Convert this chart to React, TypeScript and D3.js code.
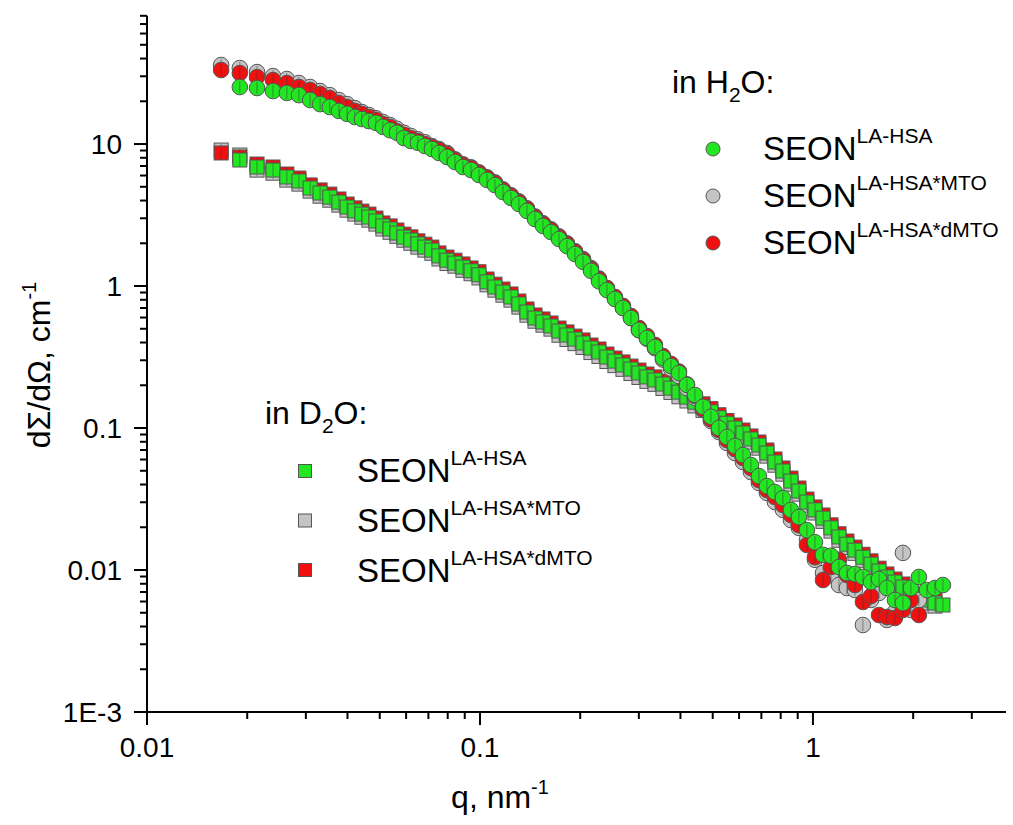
import React from "react";
import * as d3 from "d3";

// q grid (nm^-1) shared by all series
const Q: number[] = [
  0.0167, 0.019, 0.0214, 0.0239, 0.0263, 0.0286, 0.0309, 0.0331, 0.0354, 0.0377,
  0.0399, 0.0421, 0.0442, 0.0464, 0.0487, 0.0511, 0.0537, 0.0563, 0.0591, 0.062,
  0.0651, 0.0683, 0.0717, 0.0753, 0.0796, 0.0841, 0.0889, 0.094, 0.0993, 0.105,
  0.1109, 0.1172, 0.1239, 0.1309, 0.1384, 0.1463, 0.1546, 0.1634, 0.1727, 0.1825,
  0.1929, 0.2039, 0.2154, 0.2277, 0.2406, 0.2543, 0.2688, 0.2841, 0.3002, 0.3173,
  0.3353, 0.3544, 0.3746, 0.3959, 0.4184, 0.4422, 0.4674, 0.4939, 0.522, 0.5517,
  0.5831, 0.6162, 0.6512, 0.6883, 0.7274, 0.7688, 0.8125, 0.8587, 0.9075, 0.9593,
  1.014, 1.072, 1.133, 1.197, 1.265, 1.337, 1.413, 1.494, 1.579, 1.668,
  1.763, 1.863, 1.969, 2.081, 2.199, 2.325, 2.457,
];

// H2O (circles)
const H2O_LA: (number | null)[] = [
  null, 25.2, 24.8, 23.6, 22.9, 22.1, 20.4, 19.1, 18.2, 17.1,
  16.3, 15.5, 15.0, 14.5, 14.1, 13.2, 12.5, 12.0, 11.0, 10.5,
  10.2, 9.68, 9.22, 8.65, 8.1, 7.47, 6.89, 6.56, 6.05, 5.58,
  5.14, 4.59, 4.17, 3.78, 3.38, 2.96, 2.65, 2.4, 2.14, 1.91,
  1.68, 1.48, 1.28, 1.08, 0.937, 0.81, 0.7, 0.595, 0.49, 0.43,
  0.372, 0.311, 0.273, 0.244, 0.201, 0.171, 0.141, 0.12, 0.1, 0.0864,
  0.0747, 0.0645, 0.0549, 0.0459, 0.039, 0.0354, 0.0321, 0.0265, 0.0236, 0.0191,
  0.0157, 0.0128, 0.0126, 0.0105, 0.00953, 0.00937, 0.00893, 0.00823, 0.00864, 0.00747,
  0.00615, 0.00586, 0.00747, 0.00893, 0.00723, 0.00747, 0.00784,
];
const H2O_MTO: (number | null)[] = [
  36.0, 34.3, 32.1, 30.1, 28.7, 26.9, 25.2, 23.6, 22.1, 20.4,
  19.1, 17.9, 16.8, 16.0, 15.2, 14.3, 13.6, 12.8, 12.0, 11.4,
  10.8, 10.3, 9.68, 9.22, 8.65, 7.81, 7.2, 6.86, 6.32, 5.83,
  5.37, 4.8, 4.36, 3.95, 3.53, 3.09, 2.77, 2.51, 2.24, 2.0,
  1.76, 1.55, 1.34, 1.13, 0.95, 0.815, 0.7, 0.595, 0.488, 0.425,
  0.365, 0.303, 0.262, 0.232, 0.191, 0.163, 0.134, 0.112, 0.0937, 0.0784,
  0.0667, 0.0576, 0.049, 0.041, 0.0349, 0.0301, 0.0265, 0.0225, 0.0198, 0.0163,
  0.0118, 0.00953, 0.00922, 0.00784, 0.00747, 0.00723, 0.0041, 0.00615, 0.00689, 0.00445,
  0.00506, 0.0132, 0.00523, 0.00615, null, null, null,
];
const H2O_dMTO: (number | null)[] = [
  33.2, 31.6, 29.6, 28.2, 26.9, 25.2, 24.0, 22.5, 21.1, 19.4,
  18.2, 17.1, 16.3, 15.5, 14.8, 13.8, 13.2, 12.3, 11.6, 11.0,
  10.5, 10.0, 9.53, 9.07, 8.5, 7.73, 7.13, 6.79, 6.26, 5.78,
  5.32, 4.75, 4.32, 3.91, 3.5, 3.06, 2.74, 2.48, 2.21, 1.98,
  1.74, 1.53, 1.32, 1.12, 0.97, 0.838, 0.725, 0.616, 0.507, 0.445,
  0.385, 0.322, 0.283, 0.25, 0.203, 0.168, 0.136, 0.115, 0.0968, 0.0823,
  0.0711, 0.0615, 0.0523, 0.043, 0.0366, 0.0327, 0.0287, 0.0244, 0.0207, 0.015,
  0.0123, 0.0085, 0.0105, 0.0118, 0.00922, 0.00784, 0.00595, 0.00656, 0.00482, 0.00467,
  0.00459, 0.00523, 0.00615, 0.00482, null, null, null,
];

// D2O (squares)
const D2O_LA: (number | null)[] = [
  null, 7.72, 6.89, 6.56, 5.86, 5.49, 4.9, 4.52, 4.23, 3.9,
  3.6, 3.38, 3.21, 3.06, 2.87, 2.65, 2.52, 2.36, 2.21, 2.11,
  1.98, 1.88, 1.79, 1.63, 1.52, 1.45, 1.36, 1.28, 1.2, 1.07,
  0.984, 0.907, 0.837, 0.747, 0.656, 0.595, 0.558, 0.523, 0.482, 0.452,
  0.423, 0.397, 0.366, 0.343, 0.316, 0.296, 0.278, 0.26, 0.244, 0.229,
  0.218, 0.204, 0.191, 0.179, 0.165, 0.152, 0.141, 0.13, 0.118, 0.108,
  0.1, 0.0922, 0.0837, 0.0759, 0.0667, 0.0576, 0.0498, 0.0423, 0.036, 0.0301,
  0.0265, 0.0232, 0.0198, 0.0171, 0.0152, 0.0138, 0.0123, 0.011, 0.00984, 0.00893,
  0.00823, 0.00759, 0.00711, 0.00645, 0.00615, 0.00586, 0.00567,
];
const D2O_MTO: (number | null)[] = [
  9.07, 8.37, 6.55, 6.23, 5.57, 5.22, 4.66, 4.29, 4.02, 3.71,
  3.42, 3.21, 3.05, 2.91, 2.73, 2.52, 2.39, 2.24, 2.1, 2.0,
  1.88, 1.79, 1.7, 1.55, 1.44, 1.38, 1.29, 1.22, 1.14, 1.02,
  0.935, 0.862, 0.795, 0.71, 0.623, 0.565, 0.53, 0.497, 0.45, 0.42,
  0.393, 0.369, 0.34, 0.319, 0.294, 0.275, 0.259, 0.242, 0.227, 0.213,
  0.203, 0.19, 0.178, 0.166, 0.155, 0.143, 0.133, 0.123, 0.112, 0.103,
  0.095, 0.0876, 0.0795, 0.0721, 0.0634, 0.0547, 0.0473, 0.0402, 0.0342, 0.0286,
  0.0252, 0.022, 0.0188, 0.0162, 0.0144, 0.0131, 0.0117, 0.0105, 0.00935, 0.00848,
  0.00782, 0.00721, 0.00675, 0.00613, 0.00584, 0.00557, null,
];
const D2O_dMTO: (number | null)[] = [
  8.65, 8.1, 7.23, 6.89, 6.15, 5.76, 5.15, 4.75, 4.44, 4.1,
  3.78, 3.55, 3.37, 3.21, 3.01, 2.78, 2.65, 2.48, 2.32, 2.22,
  2.08, 1.97, 1.88, 1.71, 1.6, 1.52, 1.43, 1.34, 1.26, 1.12,
  1.03, 0.952, 0.879, 0.784, 0.689, 0.625, 0.586, 0.549, 0.506, 0.475,
  0.444, 0.417, 0.384, 0.36, 0.332, 0.311, 0.292, 0.273, 0.256, 0.24,
  0.229, 0.214, 0.201, 0.188, 0.173, 0.16, 0.148, 0.137, 0.124, 0.113,
  0.105, 0.0968, 0.0879, 0.0797, 0.07, 0.0605, 0.0523, 0.0444, 0.0378, 0.0316,
  0.0278, 0.0244, 0.0208, 0.018, 0.016, 0.0145, 0.0129, 0.0116, 0.0103, 0.00938,
  0.00864, 0.00797, 0.00747, 0.00677, 0.00646, 0.00615, null,
];

const SERIES_NAMES = ["LA-HSA", "LA-HSA*MTO", "LA-HSA*dMTO"];
const COLORS = ["#22e622", "#c4c4c4", "#f01010"];
const X_LABELS: [number, string][] = [[0.01, "0.01"], [0.1, "0.1"], [1, "1"]];
const Y_LABELS: [number, string][] = [[0.001, "1E-3"], [0.01, "0.01"], [0.1, "0.1"], [1, "1"], [10, "10"]];

const FONT = "'Liberation Sans', Arial, Helvetica, sans-serif";

export default function App() {
  const x = d3.scaleLog().domain([0.01, 3.8]).range([147, 1006]);
  const y = d3.scaleLog().domain([0.001, 80]).range([712, 15.8]);
  const isMajor = (v: number) => Math.abs(Math.log10(v) - Math.round(Math.log10(v))) < 1e-6;

  const h2o = [H2O_LA, H2O_MTO, H2O_dMTO];
  const d2o = [D2O_LA, D2O_MTO, D2O_dMTO];
  const drawOrder = [1, 2, 0]; // gray, red, green on top
  const stroke = "#555";
  const R = 7.8;
  const S = 14;

  const pts = (arr: (number | null)[]) =>
    Q.map((q, i) => ({ q, v: arr[i] })).filter((d) => d.v != null) as { q: number; v: number }[];

  const sup = (t: string, size: number, dy: number) => (
    <tspan fontSize={size} dy={dy}>{t}</tspan>
  );

  return (
    <svg width={1013} height={825} style={{ position: "absolute", left: 0, top: 0, background: "#fff" }} fontFamily={FONT}>
      <rect width={1013} height={825} fill="#fff" />
      {/* squares */}
      {drawOrder.map((si) => (
        <g key={"s" + si}>
          {pts(d2o[si]).map((d, i) => (
            <g key={i}>
              <rect x={x(d.q) - S / 2} y={y(d.v) - S / 2} width={S} height={S} fill={COLORS[si]} stroke={stroke} strokeWidth={1} />
              <line x1={x(d.q)} x2={x(d.q)} y1={y(d.v) - 6} y2={y(d.v) + 6} stroke="#333" strokeWidth={0.8} opacity={0.6} />
            </g>
          ))}
        </g>
      ))}
      {/* circles */}
      {drawOrder.map((si) => (
        <g key={"c" + si}>
          {pts(h2o[si]).map((d, i) => (
            <g key={i}>
              <circle cx={x(d.q)} cy={y(d.v)} r={R} fill={COLORS[si]} stroke={stroke} strokeWidth={1} />
              <line x1={x(d.q)} x2={x(d.q)} y1={y(d.v) - 6} y2={y(d.v) + 6} stroke="#333" strokeWidth={0.8} opacity={0.6} />
            </g>
          ))}
        </g>
      ))}

      {/* axes */}
      <g stroke="#000" strokeWidth={2}>
        <line x1={147} x2={147} y1={y.range()[1]} y2={724} />
        <line x1={134} x2={1006} y1={712} y2={712} />
        {y.ticks().map((t, i) => (
          <line key={i} x1={147 - (isMajor(t) ? 13 : 7)} x2={147} y1={y(t)} y2={y(t)} />
        ))}
        {x.ticks().map((t, i) => (
          <line key={i} x1={x(t)} x2={x(t)} y1={712} y2={712 + (isMajor(t) ? 13 : 7)} />
        ))}
      </g>
      <g fontSize={28} fill="#000">
        {Y_LABELS.map(([v, s]) => (
          <text key={s} x={122} y={y(v)} dy="0.36em" textAnchor="end">{s}</text>
        ))}
        {X_LABELS.map(([v, s]) => (
          <text key={s} x={x(v)} y={757} textAnchor="middle">{s}</text>
        ))}
      </g>
      <text x={500} y={808} textAnchor="middle" fontSize={32}>
        q, nm{sup("-1", 20, -14)}
      </text>
      <text transform="translate(50,365) rotate(-90)" textAnchor="middle" fontSize={32}>
        dΣ/dΩ, cm{sup("-1", 20, -14)}
      </text>

      {/* legend H2O */}
      <text x={672} y={93} fontSize={32}>
        in H{sup("2", 21, 9)}<tspan dy={-9}>O:</tspan>
      </text>
      {[0, 1, 2].map((si, k) => (
        <g key={"lh" + si}>
          <circle cx={713} cy={149 + k * 47} r={7} fill={COLORS[si]} stroke={stroke} strokeWidth={1} />
          <text x={763} y={160 + k * 47} fontSize={33}>
            SEON{sup(SERIES_NAMES[si], 21, -17)}
          </text>
        </g>
      ))}

      {/* legend D2O */}
      <text x={265} y={424} fontSize={32}>
        in D{sup("2", 21, 9)}<tspan dy={-9}>O:</tspan>
      </text>
      {[0, 1, 2].map((si, k) => (
        <g key={"ld" + si}>
          <rect x={305 - 6.5} y={471 + k * 49.5 - 6.5} width={13} height={13} fill={COLORS[si]} stroke={stroke} strokeWidth={1} />
          <text x={357} y={482 + k * 50} fontSize={33}>
            SEON{sup(SERIES_NAMES[si], 21, -17)}
          </text>
        </g>
      ))}
    </svg>
  );
}
